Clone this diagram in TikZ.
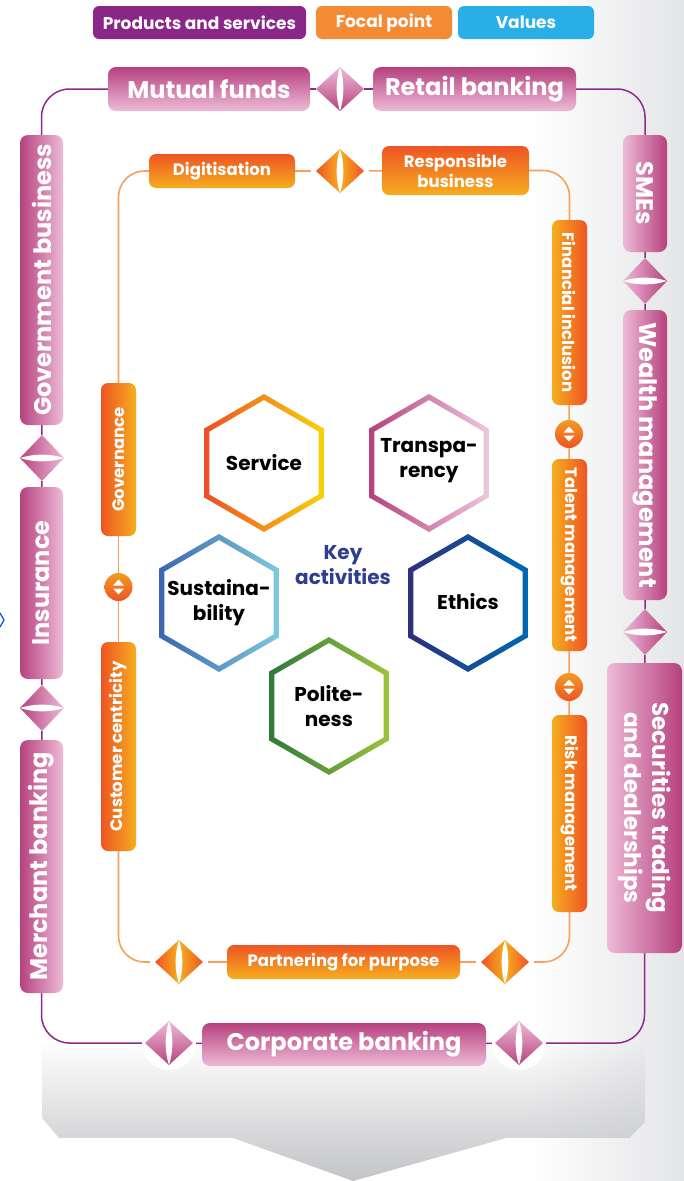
\documentclass[tikz,border=0pt]{standalone}
\usepackage{fontspec}
\usepackage{graphicx}
\setmainfont{Poppins}
\usetikzlibrary{shapes.geometric,fadings}
\definecolor{pdark}{HTML}{B6417E}
\definecolor{plight}{HTML}{EDBBD7}
\definecolor{pline}{HTML}{8E2A8E}
\definecolor{odark}{HTML}{EE5424}
\definecolor{olight}{HTML}{F6AE1F}
\definecolor{oline}{HTML}{F7A05B}
\definecolor{ocircA}{HTML}{F39A22}
\definecolor{legp}{HTML}{8B2689}
\definecolor{lego}{HTML}{F58A34}
\definecolor{legb}{HTML}{2AAEE7}
\definecolor{navy}{HTML}{2F3D8F}
\definecolor{bggray}{HTML}{E4E5E7}
\definecolor{bgdark}{HTML}{C3C4C7}
\definecolor{hsA}{HTML}{EE4F25}\definecolor{hsB}{HTML}{F8D20A}
\definecolor{htA}{HTML}{B5417D}\definecolor{htB}{HTML}{EDC8DE}
\definecolor{huA}{HTML}{3B67B0}\definecolor{huB}{HTML}{7FC8DC}
\definecolor{heA}{HTML}{2E2F7C}\definecolor{heB}{HTML}{0068B3}
\definecolor{hpA}{HTML}{2E7A3A}\definecolor{hpB}{HTML}{9DC43A}
\pgfdeclarelayer{back}\pgfdeclarelayer{lines}
\pgfsetlayers{back,lines,main}
\newcommand{\bigf}{\fontsize{24}{28}\selectfont\bfseries}
\newcommand{\secf}{\fontsize{23}{28}\selectfont\bfseries}
\newcommand{\smf}{\fontsize{16.5}{20}\selectfont\bfseries}
\newcommand{\legf}{\fontsize{17}{20}\selectfont\bfseries}
\newcommand{\hexf}{\fontsize{20}{25}\selectfont\bfseries}
\newcommand{\pdH}[3]{%
 \node[dnode] (#1) at (#2,#3) {};
 \begin{scope}[shift={(#2,#3)}]
 \shade[top color=plight, bottom color=pdark] (0,-22) -- (-24,0) -- (0,22) -- (24,0) -- cycle;
 \fill[white] (0,-22) .. controls (-4.5,-8) and (-4.5,8) .. (0,22) .. controls (4.5,8) and (4.5,-8) .. (0,-22) -- cycle;
 \end{scope}}
\newcommand{\pdHh}[3]{%
 \begin{scope}[shift={(#2,#3)}]\fill[white] (0,0) circle (27);\end{scope}
 \pdH{#1}{#2}{#3}}
\newcommand{\pdV}[5]{%
 \node[dnodev] (#1) at (#2,#3) {};
 \begin{scope}[shift={(#2,#3)}]
 \shade[left color=#4, right color=#5] (-22,0) -- (0,-23) -- (22,0) -- (0,23) -- cycle;
 \fill[white] (-22,0) .. controls (-8,-4.5) and (8,-4.5) .. (22,0) .. controls (8,4.5) and (-8,4.5) .. (-22,0) -- cycle;
 \end{scope}}
\newcommand{\odH}[3]{%
 \node[dnode] (#1) at (#2,#3) {};
 \begin{scope}[shift={(#2,#3)}]
 \fill[white] (0,0) circle (29);
 \shade[left color=odark, right color=olight] (0,-22) -- (-24,0) -- (0,22) -- cycle;
 \shade[left color=olight, right color=odark] (0,-22) -- (24,0) -- (0,22) -- cycle;
 \fill[white] (0,-22) .. controls (-4.5,-8) and (-4.5,8) .. (0,22) .. controls (4.5,8) and (4.5,-8) .. (0,-22) -- cycle;
 \end{scope}}
\newcommand{\hexa}[4]{%
 \begin{scope}[shift={(#1,#2)}]
 \shade[left color=#3, right color=#4, even odd rule]
 (90:69) -- (150:69) -- (210:69) -- (270:69) -- (330:69) -- (30:69) -- cycle
 (90:63) -- (150:63) -- (210:63) -- (270:63) -- (330:63) -- (30:63) -- cycle;
 \end{scope}}
\begin{document}
\begin{tikzpicture}[x=1pt,y=-1pt,
 dnode/.style={diamond, minimum width=48, minimum height=44, inner sep=0},
 dnodev/.style={diamond, minimum width=44, minimum height=46, inner sep=0},
 boxbase/.style={rounded corners=8, text=white, inner sep=0, align=center},
 pH/.style={boxbase, font=\bigf, top color=pdark, bottom color=plight},
 pVL/.style={boxbase, font=\bigf, left color=pdark, right color=plight},
 pVR/.style={boxbase, font=\bigf, left color=plight, right color=pdark},
 oH/.style={boxbase, rounded corners=7, font=\smf, top color=odark, bottom color=olight},
 oVL/.style={boxbase, rounded corners=7, font=\smf, left color=odark, right color=olight},
 oVR/.style={boxbase, rounded corners=7, font=\smf, left color=olight, right color=odark},
 legbox/.style={rounded corners=6, text=white, font=\legf, inner sep=0, minimum height=33},
 ocirc/.style={circle, minimum size=28, inner sep=0, top color=ocircA, bottom color=odark,
   path picture={
   \fill[white] ([xshift=-5.5pt,yshift=1.5pt]path picture bounding box.center) -- ++(11pt,0pt) -- ++(-5.5pt,6pt) -- cycle;
   \fill[white] ([xshift=-5.5pt,yshift=-1.5pt]path picture bounding box.center) -- ++(11pt,0pt) -- ++(-5.5pt,-6pt) -- cycle;}},
 pl/.style={draw=pline, line width=1.5},
 ol/.style={draw=oline, line width=1.6},
 hext/.style={font=\hexf, align=center, text=black, inner sep=0}
]
\useasboundingbox (0,0) rectangle (684,1181);
\begin{pgfonlayer}{back}
\fill[white] (0,0) rectangle (684,1181);
\shade[left color=white, right color=bggray] (530,0) rectangle (684,1181);
\fill[bgdark, path fading=north] (42,1042) -- (42,1118) -- (59,1138) -- (233,1138) -- (353,1181) -- (506,1138) -- (629,1138) -- (645,1122) -- (645,1042) -- cycle;
\draw[blue!70!cyan, line width=1.2] (0,613) -- (4,620) -- (0,627);
\end{pgfonlayer}

% legend
\node[legbox, fill=legp, minimum width=213] (lg1) at (199.5,22.5) {Products and services};
\node[legbox, fill=lego, minimum width=136] (lg2) at (384,22.5) {Focal point};
\node[legbox, fill=legb, minimum width=136] (lg3) at (526,22.5) {Values};

% outer purple boxes
\node[pH, minimum width=202, minimum height=44] (mf) at (209,89) {Mutual funds};
\node[pH, minimum width=203, minimum height=44] (rbk) at (474.5,89) {Retail banking};
\node[pVR, minimum width=44, minimum height=117] (sme) at (645,193.5) {\rotatebox{-90}{SMEs}};
\node[pVR, minimum width=44, minimum height=290] (wm) at (645,455) {\rotatebox{-90}{Wealth management}};
\node[pVR, font=\secf, minimum width=75, minimum height=290] (sec) at (644.5,808) {\rotatebox{-90}{\begin{tabular}{@{}c@{}}Securities trading\\and dealerships\end{tabular}}};
\node[pH, minimum width=284, minimum height=43] (cb) at (344,1044.5) {Corporate banking};
\node[pVL, minimum width=43, minimum height=290] (gb) at (41.5,280) {\rotatebox{90}{Government business}};
\node[pVL, minimum width=43, minimum height=192] (ins) at (41.5,583) {\rotatebox{90}{Insurance}};
\node[pVL, minimum width=43, minimum height=253] (mb) at (41.5,866.5) {\rotatebox{90}{Merchant banking}};

\pdH{pd1}{340}{89}
\pdV{pd2}{645}{281}{plight}{pdark}
\pdV{pd3}{645}{632}{plight}{pdark}
\pdHh{pd4}{169}{1043}
\pdHh{pd5}{519}{1043}
\pdV{pd6}{42}{458}{pdark}{plight}
\pdV{pd7}{42}{708}{pdark}{plight}

% inner orange boxes
\node[oH, minimum width=146, minimum height=34] (dig) at (222,171) {Digitisation};
\node[oH, minimum width=147, minimum height=49] (resp) at (455.5,170.5) {Responsible\\business};
\node[oVR, minimum width=35, minimum height=185] (fi) at (569.5,312.5) {\rotatebox{-90}{Financial inclusion}};
\node[oVR, minimum width=35, minimum height=192] (tm) at (569.5,555) {\rotatebox{-90}{Talent management}};
\node[oVR, minimum width=35, minimum height=197] (rm) at (569.5,813.5) {\rotatebox{-90}{Risk management}};
\node[oH, minimum width=233, minimum height=34] (pp) at (343.5,962) {Partnering for purpose};
\node[oVL, minimum width=35, minimum height=209] (cc) at (118.5,746.5) {\rotatebox{90}{Customer centricity}};
\node[oVL, minimum width=35, minimum height=153] (gov) at (118.5,459.5) {\rotatebox{90}{Governance}};
\node[ocirc] (c1) at (569,434) {};
\node[ocirc] (c2) at (569,687) {};
\node[ocirc] (c3) at (118.5,587) {};
\odH{od1}{340}{171}
\odH{od2}{179}{962}
\odH{od3}{505}{962}

% connectors
\begin{pgfonlayer}{lines}
\draw[pl, rounded corners=28] (mf.west) -| (gb.north);
\draw[pl] (mf) -- (pd1) -- (rbk);
\draw[pl, rounded corners=28] (rbk.east) -| (sme.north);
\draw[pl] (sme) -- (pd2) -- (wm) -- (pd3) -- (sec);
\draw[pl, rounded corners=28] (sec.south) |- (pd5);
\draw[pl] (pd5) -- (cb) -- (pd4);
\draw[pl, rounded corners=28] (pd4) -| (mb.south);
\draw[pl] (mb) -- (pd7) -- (ins) -- (pd6) -- (gb);
\draw[ol, rounded corners=26] (dig.west) -| (gov.north);
\draw[ol] (dig) -- (od1) -- (resp);
\draw[ol, rounded corners=26] (resp.east) -| (fi.north);
\draw[ol] (fi) -- (c1) -- (tm) -- (c2) -- (rm);
\draw[ol, rounded corners=26] (rm.south) |- (od3);
\draw[ol] (od3) -- (pp) -- (od2);
\draw[ol, rounded corners=26] (od2) -| (cc.south);
\draw[ol] (cc) -- (c3) -- (gov);
\end{pgfonlayer}

% hexagons
\hexa{264}{463}{hsA}{hsB}
\hexa{429}{463}{htA}{htB}
\hexa{219}{603}{huA}{huB}
\hexa{468}{603}{heA}{heB}
\hexa{329}{706}{hpA}{hpB}
\node[hext] (hs) at (264,463) {Service};
\node[hext] (ht) at (429,461) {Transpa-\\rency};
\node[hext] (hu) at (219,603) {Sustaina-\\bility};
\node[hext] (he) at (468,602) {Ethics};
\node[hext] (hp) at (329,706) {Polite-\\ness};
\node[hext, text=navy] (ka) at (343,565) {Key\\activities};
\end{tikzpicture}
\end{document}
